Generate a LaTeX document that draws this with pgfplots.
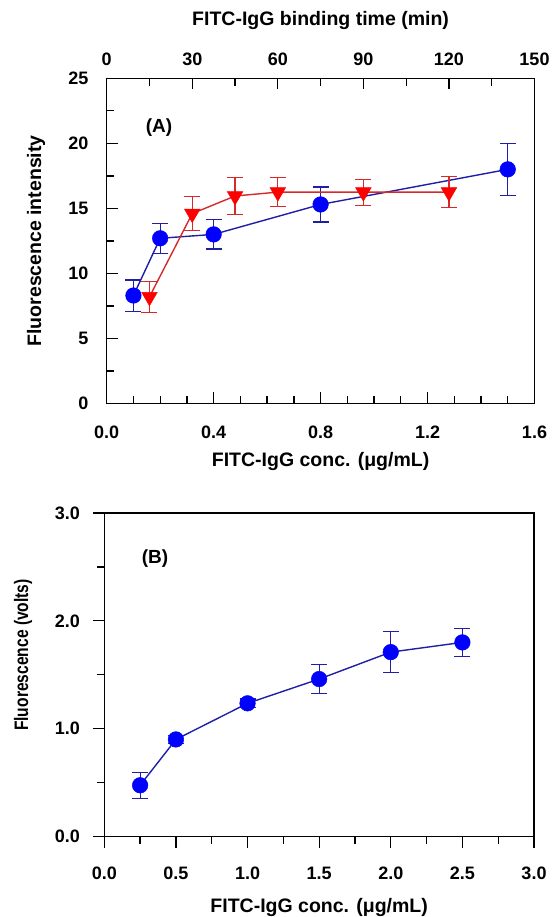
\documentclass[border=0pt]{standalone}
\usepackage{fontspec}
\setmainfont{Liberation Sans}
\usepackage{graphicx}
\usepackage{pgfplots}
\pgfplotsset{compat=1.18}
\definecolor{ptblue}{HTML}{0000FF}
\definecolor{lnblue}{HTML}{1F1FA6}
\definecolor{ptred}{HTML}{FF0000}
\definecolor{lnred}{HTML}{D42A2A}
\pgfplotsset{
  fig/.style={
    scale only axis,
    axis line style={black, line width=1.2bp},
    every tick/.style={black, line width=1.3bp},
    major tick length=11bp, minor tick length=7.5bp,
    tick label style={font=\fontsize{18bp}{21bp}\selectfont\bfseries},
    label style={font=\fontsize{19.5bp}{23bp}\selectfont\bfseries},
    /pgf/number format/assume math mode=true,
    clip=false,
  },
  onedec/.style={/pgf/number format/.cd, fixed, fixed zerofill, precision=1},
  bluepts/.style={lnblue, line width=1.4bp, mark=*,
    mark options={ptblue, fill=ptblue, mark size=7.8bp, line width=0.5bp},
    error bars/.cd, y dir=both, y explicit,
    error bar style={lnblue, line width=1.2bp},
    error mark options={lnblue, rotate=90, mark size=8bp, line width=1.2bp}},
  redpts/.style={lnred, line width=1.4bp, mark=triangle*,
    mark options={ptred, fill=ptred, rotate=180, mark size=9bp, line width=0.5bp},
    error bars/.cd, y dir=both, y explicit,
    error bar style={lnred, line width=1.2bp},
    error mark options={lnred, rotate=90, mark size=8bp, line width=1.2bp}},
}
\begin{document}
\begin{tikzpicture}
\useasboundingbox (0,0) rectangle (552bp,917bp);
% panel A, concentration axis
\begin{axis}[fig, at={(106.7bp,513.5bp)}, anchor=south west,
  width=427.8bp, height=325.2bp,
  xmin=0, xmax=1.6, ymin=0, ymax=25,
  xtick={0,0.4,0.8,1.2,1.6}, minor x tick num=3,
  ytick={0,5,10,15,20,25}, minor y tick num=1,
  tick align=inside, xtick pos=bottom, ytick pos=left,
  xticklabel style={onedec},
  xticklabel shift=19bp, yticklabel shift=14.7bp,
  xlabel={FITC-IgG conc. (μg/mL)},
  ylabel={Fluorescence intensity},
  xlabel style={at={(axis description cs:0.5,-0.177)}, anchor=center},
  ylabel style={at={(axis description cs:-0.165,0.5)}, anchor=center},
]
\addplot[bluepts] coordinates {
  (0.1,8.3) +- (0,1.2)
  (0.2,12.7) +- (0,1.15)
  (0.4,13.0) +- (0,1.12)
  (0.8,15.3) +- (0,1.35)
  (1.5,18.0) +- (0,2.0)
};
\node[font=\fontsize{19bp}{22bp}\selectfont\bfseries] at (axis cs:0.196,21.18) {(A)};
\end{axis}
% panel A, binding time axis
\begin{axis}[fig, at={(106.7bp,513.5bp)}, anchor=south west,
  width=427.8bp, height=325.2bp,
  xmin=0, xmax=150, ymin=0, ymax=25,
  axis x line*=top, axis y line=none, ytick=\empty,
  xtick={0,30,60,90,120,150}, minor x tick num=1,
  tick align=inside,
  xticklabel shift=9bp,
  xlabel={FITC-IgG binding time (min)},
  xlabel style={at={(axis description cs:0.5,1.179)}, anchor=center},
]
\addplot[redpts] coordinates {
  (15,8.2) +- (0,1.2)
  (30,14.6) +- (0,1.3)
  (45,15.95) +- (0,1.45)
  (60,16.25) +- (0,1.1)
  (90,16.25) +- (0,1.0)
  (120,16.25) +- (0,1.2)
};
\end{axis}
% panel B
\begin{axis}[fig, at={(104.3bp,80.5bp)}, anchor=south west,
  width=429.7bp, height=323.5bp,
  xmin=0, xmax=3, ymin=0, ymax=3,
  xtick={0,0.5,1,1.5,2,2.5,3}, minor x tick num=1,
  ytick={0,1,2,3}, minor y tick num=1,
  tick align=outside, xtick pos=bottom, ytick pos=left,
  xticklabel style={onedec}, yticklabel style={onedec},
  xticklabel shift=16bp, yticklabel shift=10bp,
  xlabel={FITC-IgG conc. (μg/mL)},
  ylabel={\scalebox{0.8}[1]{Fluorescence (volts)}},
  xlabel style={at={(axis description cs:0.5,-0.218)}, anchor=center},
  ylabel style={at={(axis description cs:-0.189,0.561)}, anchor=center},
]
\addplot[bluepts] coordinates {
  (0.25,0.475) +- (0,0.12)
  (0.5,0.90) +- (0,0.04)
  (1.0,1.235) +- (0,0.04)
  (1.5,1.46) +- (0,0.135)
  (2.0,1.71) +- (0,0.19)
  (2.5,1.80) +- (0,0.13)
};
\node[font=\fontsize{19bp}{22bp}\selectfont\bfseries] at (axis cs:0.354,2.58) {(B)};
\end{axis}
\end{tikzpicture}
\end{document}
